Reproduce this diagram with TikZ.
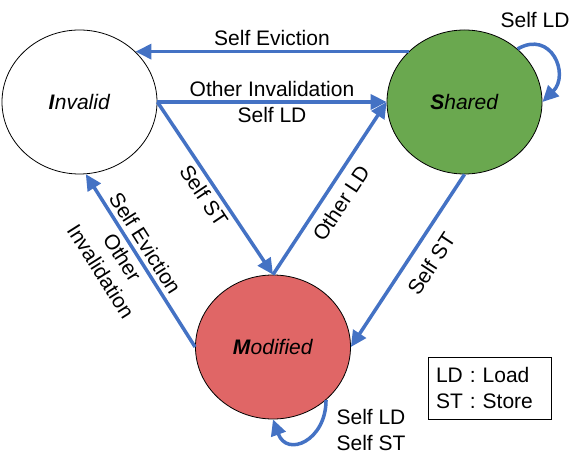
\documentclass[tikz,border=0pt]{standalone}
\usepackage{fontspec}
\setmainfont{Liberation Sans}
\usetikzlibrary{shapes.geometric,arrows.meta}

\definecolor{linkblue}{HTML}{4472C4}
\definecolor{sharedgreen}{HTML}{6AA84F}
\definecolor{modifiedred}{HTML}{E06666}

\tikzset{
    state/.style={ellipse, draw=black, line width=0.8pt, minimum width=155pt, minimum height=144pt, inner sep=0pt},
    trans/.style={draw=linkblue, line width=3.5pt, -{Triangle[length=16pt,width=15pt]}},
    lbl/.style={inner sep=4pt}
}

\begin{document}
\begin{tikzpicture}[x=1pt, y=1pt, font=\fontsize{21pt}{25.5pt}\selectfont]
            \useasboundingbox (0, 0) rectangle (575, 460);
            % draw states
                \node[state] (invalid) at (79.5, 358) {\textbf{\textit{I}}\textit{nvalid}};
                \node[state, fill=sharedgreen] (shared) at (464.5, 358) {\textbf{\textit{S}}\textit{hared}};
                \node[state, fill=modifiedred] (modified) at (273, 113) {\textbf{\textit{M}}\textit{odified}};

            % draw transitions between states
                \draw[trans] (shared.138) -- (invalid.42) node[lbl, pos=.5, above] {Self Eviction};
                \draw[trans] (invalid.east) -- (shared.west)
                    node[lbl, pos=.5, above] {Other Invalidation}
                    node[lbl, pos=.5, below] {Self LD};
                \draw[trans] (invalid.east) -- (modified.north) node[lbl, pos=.5, sloped, below] {Self ST};
                \draw[trans] (modified.north) -- (shared.west) node[lbl, inner sep=8pt, pos=.47, sloped, below] {Other LD};
                \draw[trans] (shared.south) -- (modified.east) node[lbl, inner sep=12pt, pos=.45, sloped, below] {Self ST};
                \draw[trans] (modified.west) -- (invalid.-85)
                    node[lbl, pos=.56, sloped, above] {Self Eviction}
                    node[lbl, pos=.56, sloped, below, align=center] {Other\\Invalidation};

            % draw self loops
                \draw[trans] (shared.45) to[out=30, in=45, looseness=1.7] (shared.east);
                \node (sharedloop) at (535, 440) {Self LD};
                \draw[trans] (modified.-45) to[out=-90, in=-70, looseness=1.85] (modified.south);
                \node[align=left] (modifiedloop) at (371, 30) {Self LD\\Self ST};

            % draw legend
                \node[draw, line width=0.8pt, minimum width=123pt, minimum height=62pt, text width=107pt, inner sep=0pt, align=left] (key) at (489.5, 72) {LD : Load\\ST : Store};
\end{tikzpicture}
\end{document}
